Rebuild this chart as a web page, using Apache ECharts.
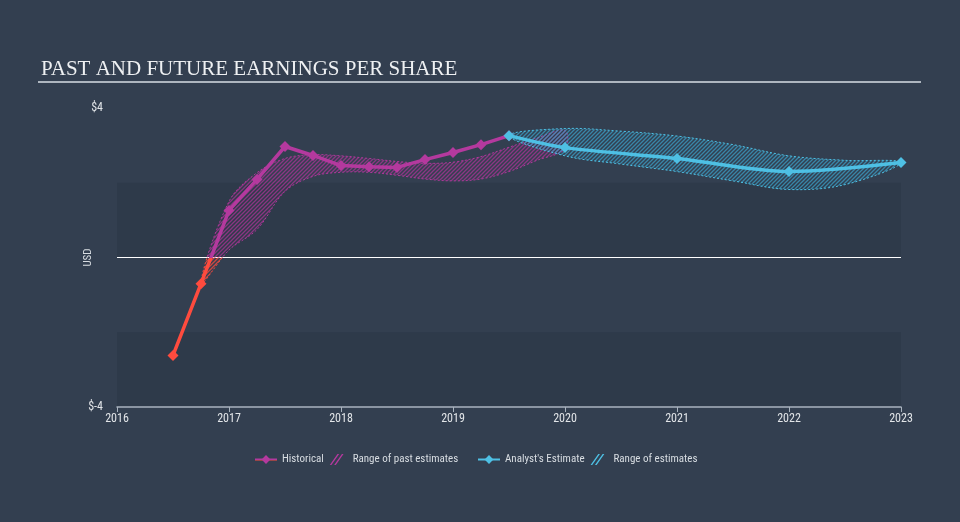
<!DOCTYPE html>
<html>
<head>
<meta charset="utf-8">
<script src="https://cdn.jsdelivr.net/npm/echarts@6/dist/echarts.min.js"></script>
<style>
  html, body { margin: 0; padding: 0; background: #333f50; }
  #chart { width: 960px; height: 522px; }
</style>
</head>
<body>
<div id="chart"></div>
<script>
// values (x in decimal years, y in USD)
const yearTicks = [2016, 2017, 2018, 2019, 2020, 2021, 2022, 2023]
const histX = [2016.5, 2016.75, 2017.0, 2017.25, 2017.5, 2017.75, 2018.0, 2018.25, 2018.5, 2018.75, 2019.0, 2019.25, 2019.5]
const histEps = [-2.62, -0.70, 1.26, 2.09, 2.97, 2.73, 2.46, 2.43, 2.41, 2.62, 2.81, 3.02, 3.26]
const estX = [2019.5, 2020, 2021, 2022, 2023]
const estEps = [3.26, 2.94, 2.65, 2.30, 2.54]
const pastRangeX = [2016.75, 2017.0, 2017.25, 2017.5, 2017.75, 2018.0, 2018.25, 2018.5, 2018.75, 2019.0, 2019.25, 2019.5, 2019.75, 2020.0]
const pastLow = [-0.7, 0.2, 0.75, 1.77, 2.17, 2.28, 2.28, 2.2, 2.1, 2.05, 2.1, 2.3, 2.6, 2.9]
const pastHigh = [-0.7, 1.5, 2.27, 2.65, 2.75, 2.72, 2.65, 2.57, 2.52, 2.55, 2.7, 2.95, 3.2, 3.4]
const futRangeX = [2019.5, 2020, 2020.5, 2021, 2021.5, 2022, 2022.5, 2023]
const futLow = [3.26, 2.72, 2.5, 2.3, 2.05, 1.82, 1.95, 2.54]
const futHigh = [3.26, 3.45, 3.38, 3.25, 3.02, 2.72, 2.6, 2.54]

const MAGENTA = '#b4399e'
const RED = '#ff4b3e'
const BLUE = '#4ec0e4'

function hatch (color) {
  const c = document.createElement('canvas')
  c.width = 4
  c.height = 4
  const ctx = c.getContext('2d')
  ctx.strokeStyle = color
  ctx.lineWidth = 1.3
  ctx.beginPath()
  ctx.moveTo(0, 4); ctx.lineTo(4, 0)
  ctx.moveTo(-1, 1); ctx.lineTo(1, -1)
  ctx.moveTo(3, 5); ctx.lineTo(5, 3)
  ctx.stroke()
  return { image: c, repeat: 'repeat' }
}

const zip = (xs, ys) => xs.map((x, i) => [x, ys[i]])

// band between lo and hi, drawn as one smoothed polygon; the part below zero gets its own colour
function bandRenderer (xs, lo, hi, fillUp, strokeUp, fillDown, strokeDown) {
  return function (params, api) {
    if (params.dataIndex !== 0) return null
    const last = xs.length - 1
    const pts = xs.map((x, i) => api.coord([x, hi[i]]))
    for (let i = last; i >= 0; i--) {
      if ((i === 0 || i === last) && lo[i] === hi[i]) continue
      pts.push(api.coord([xs[i], lo[i]]))
    }
    const cs = params.coordSys
    const zeroY = api.coord([xs[0], 0])[1]
    const poly = (fill, stroke, clip) => ({
      type: 'polygon',
      shape: { points: pts, smooth: 0.35 },
      style: { fill: fill, stroke: stroke, lineWidth: 1, lineDash: [2, 2] },
      clipPath: { type: 'rect', shape: clip }
    })
    return {
      type: 'group',
      children: [
        poly(fillUp, strokeUp, { x: cs.x, y: cs.y, width: cs.width, height: zeroY - cs.y }),
        poly(fillDown, strokeDown, { x: cs.x, y: zeroY, width: cs.width, height: cs.y + cs.height - zeroY })
      ]
    }
  }
}

// historical line turns red below zero
const hMax = Math.max(...histEps)
const hMin = Math.min(...histEps)
const zeroAt = hMax / (hMax - hMin)
const histGradient = new echarts.graphic.LinearGradient(0, 0, 0, 1, [
  { offset: 0, color: MAGENTA },
  { offset: zeroAt, color: MAGENTA },
  { offset: zeroAt, color: RED },
  { offset: 1, color: RED }
])
const histData = histX.map((x, i) => ({
  value: [x, histEps[i]],
  itemStyle: { color: histEps[i] < 0 ? RED : MAGENTA }
}))

const hatchIcon = 'path://M0,10L7,0L8.5,0L1.5,10Z M4,10L11,0L12.5,0L5.5,10Z'
const font = "'Roboto Condensed', 'DejaVu Sans Condensed', 'Liberation Sans Narrow', 'Liberation Sans', sans-serif"

const chart = echarts.init(document.getElementById('chart'))
chart.setOption({
  animation: false,
  backgroundColor: '#333f50',
  title: {
    text: 'PAST AND FUTURE EARNINGS PER SHARE',
    left: 36,
    top: 54,
    textStyle: { color: '#eef0f2', fontFamily: "'Liberation Serif', 'DejaVu Serif', serif", fontSize: 21, fontWeight: 'normal' }
  },
  graphic: [{
    type: 'line',
    shape: { x1: 38, y1: 82, x2: 921, y2: 82 },
    style: { stroke: '#aeb6bf', lineWidth: 2 }
  }],
  grid: { left: 117, right: 59, top: 108, bottom: 115 },
  legend: [{
    left: 249,
    top: 449,
    itemGap: 6,
    itemWidth: 22,
    itemHeight: 11,
    textStyle: { color: '#d8dde2', fontSize: 11, fontFamily: font },
    data: [
      { name: 'Historical', itemStyle: { color: MAGENTA } },
      { name: 'Range of past estimates', icon: hatchIcon, itemStyle: { color: MAGENTA, borderWidth: 0 } }
    ]
  }, {
    left: 472,
    top: 449,
    itemGap: 6,
    itemWidth: 22,
    itemHeight: 11,
    textStyle: { color: '#d8dde2', fontSize: 11, fontFamily: font },
    data: [
      { name: "Analyst's Estimate", itemStyle: { color: BLUE } },
      { name: 'Range of estimates', icon: hatchIcon, itemStyle: { color: BLUE, borderWidth: 0 } }
    ]
  }],
  xAxis: {
    type: 'value',
    min: 2016,
    max: 2023,
    interval: 1,
    axisLine: { onZero: false, lineStyle: { color: '#a9b3be', width: 1.5 } },
    axisTick: { show: true, length: 5, lineStyle: { color: '#a9b3be' } },
    axisLabel: {
      color: '#e2e5e8',
      fontSize: 12,
      fontFamily: font,
      margin: 6,
      formatter: v => yearTicks.includes(v) ? String(v) : ''
    },
    splitLine: { show: false }
  },
  yAxis: {
    type: 'value',
    min: -4,
    max: 4,
    interval: 2,
    name: 'USD',
    nameLocation: 'middle',
    nameGap: 23,
    nameMoveOverlap: false,
    nameRotate: 90,
    nameTextStyle: { color: '#d8dde2', fontSize: 11, fontFamily: font },
    axisLine: { show: false },
    axisTick: { show: false },
    axisLabel: {
      color: '#e2e5e8',
      fontSize: 12,
      fontFamily: font,
      margin: 14,
      formatter: v => v === 4 ? '$4' : (v === -4 ? '$-4' : '')
    },
    splitLine: { show: true, lineStyle: { color: ['transparent', 'transparent', '#ffffff', 'transparent', 'transparent'], width: 1 } },
    splitArea: { show: true, areaStyle: { color: ['#2e3a4a', 'rgba(0,0,0,0)'] } }
  },
  series: [
    {
      name: 'Range of past estimates',
      type: 'custom',
      renderItem: bandRenderer(pastRangeX, pastLow, pastHigh,
        hatch('rgba(170,52,150,0.75)'), 'rgba(180,57,158,0.95)',
        hatch('rgba(255,75,62,0.75)'), 'rgba(255,75,62,0.95)'),
      data: pastRangeX.map((x, i) => [x, pastLow[i], pastHigh[i]]),
      encode: { x: 0, y: [1, 2] },
      itemStyle: { color: MAGENTA },
      silent: true,
      z: 1
    },
    {
      name: 'Range of estimates',
      type: 'custom',
      renderItem: bandRenderer(futRangeX, futLow, futHigh,
        hatch('rgba(60,165,205,0.7)'), 'rgba(78,192,228,1)',
        hatch('rgba(60,165,205,0.7)'), 'rgba(78,192,228,1)'),
      data: futRangeX.map((x, i) => [x, futLow[i], futHigh[i]]),
      encode: { x: 0, y: [1, 2] },
      itemStyle: { color: BLUE },
      silent: true,
      z: 2
    },
    {
      name: 'Historical',
      type: 'line',
      data: histData,
      symbol: 'diamond',
      symbolSize: 11,
      itemStyle: { color: MAGENTA },
      lineStyle: { color: histGradient, width: 3.5 },
      z: 4
    },
    {
      name: "Analyst's Estimate",
      type: 'line',
      smooth: 0.3,
      data: zip(estX, estEps),
      symbol: 'diamond',
      symbolSize: 11,
      itemStyle: { color: BLUE },
      lineStyle: { color: BLUE, width: 3.5 },
      z: 5
    }
  ]
})
</script>
</body>
</html>
